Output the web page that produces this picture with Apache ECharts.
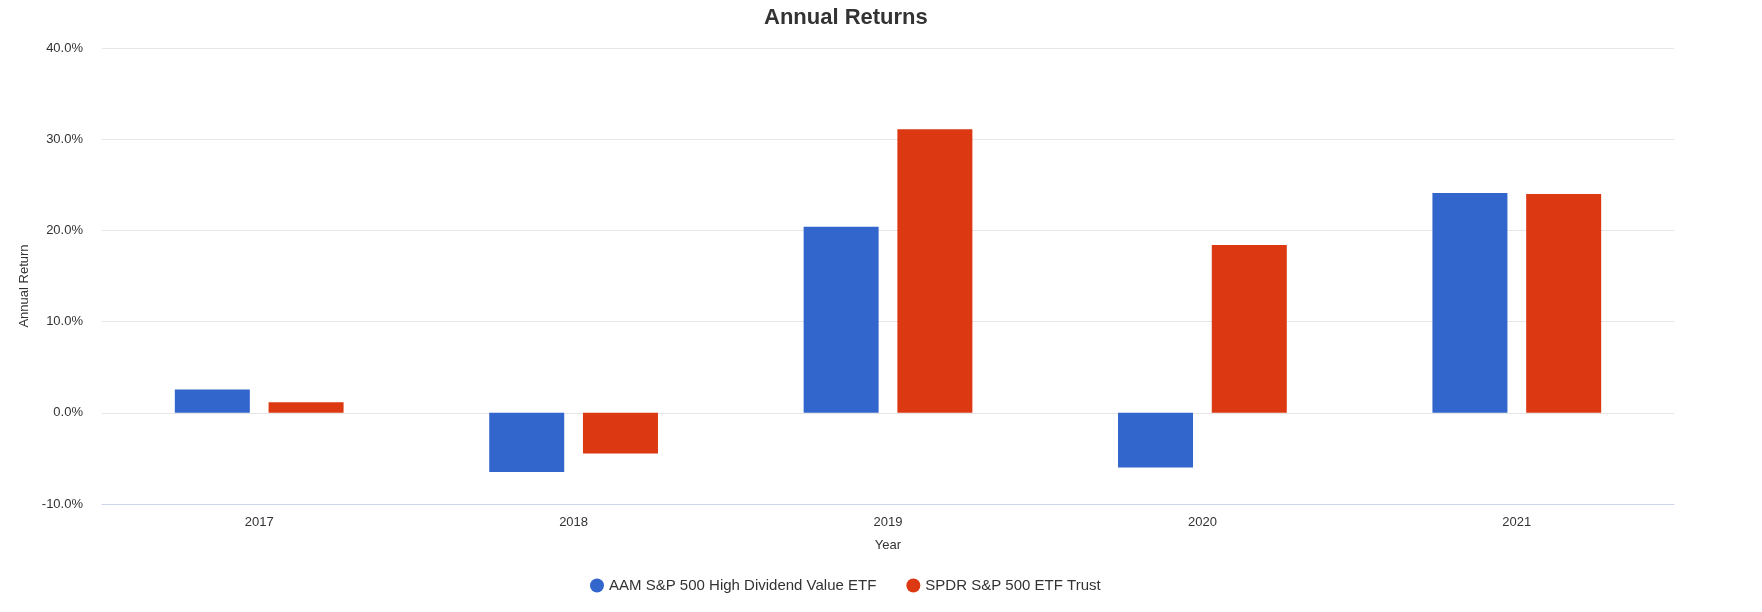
<!DOCTYPE html>
<html>
<head>
<meta charset="utf-8">
<title>Annual Returns</title>
<script src="https://cdn.jsdelivr.net/npm/echarts@6/dist/echarts.min.js"></script>
<style>
    html, body { margin: 0; padding: 0; background: #fff; }
    #chart1 { width: 1762px; height: 612px; }
</style>
</head>
<body>
<div id="chart1"></div>
<script>
    // years on the x axis
    var years = ['2017', '2018', '2019', '2020', '2021'];
    // annual returns in percent
    var aamReturns = [2.56, -6.5, 20.4, -6.0, 24.1];
    var spyReturns = [1.17, -4.47, 31.1, 18.4, 24.0];
    var seriesNames = ['AAM S&P 500 High Dividend Value ETF', 'SPDR S&P 500 ETF Trust'];

    var font = 'Arial, "Liberation Sans", sans-serif';

    var myChart = echarts.init(document.getElementById('chart1'));
    var option = {
        animation: false,
        title: {
            text: 'Annual Returns',
            left: 759,
            top: 2,
            textStyle: { fontSize: 22, fontWeight: 'bold', color: '#333', fontFamily: font }
        },
        legend: {
            data: seriesNames,
            left: 585,
            top: 573,
            icon: 'circle',
            itemWidth: 14,
            itemHeight: 14,
            itemGap: 30,
            textStyle: { fontSize: 15, color: '#333', fontFamily: font }
        },
        grid: {
            left: 102,
            right: 88,
            top: 48,
            bottom: 108
        },
        xAxis: {
            type: 'category',
            data: years,
            name: 'Year',
            nameLocation: 'middle',
            nameGap: 35,
            nameTextStyle: { fontSize: 13, color: '#333', fontFamily: font },
            axisLine: { onZero: false, lineStyle: { color: '#ccd6eb', width: 1 } },
            axisTick: { show: false },
            axisLabel: { fontSize: 13, color: '#333', margin: 12, fontFamily: font }
        },
        yAxis: {
            type: 'value',
            min: -10,
            max: 40,
            interval: 10,
            name: 'Annual Return',
            nameLocation: 'middle',
            nameGap: 70,
            nameTextStyle: { fontSize: 13, color: '#333', fontFamily: font, padding: [0, 20, 0, 0] },
            axisLine: { show: false },
            axisTick: { show: false },
            splitLine: { lineStyle: { color: '#e6e6e6' } },
            axisLabel: {
                fontSize: 13,
                color: '#333',
                margin: 19,
                fontFamily: font,
                formatter: function (v) { return v.toFixed(1) + '%'; }
            }
        },
        series: [
            {
                name: seriesNames[0],
                type: 'bar',
                data: aamReturns,
                barWidth: 75,
                barGap: '25%',
                itemStyle: { color: '#3366cc' }
            },
            {
                name: seriesNames[1],
                type: 'bar',
                data: spyReturns,
                barWidth: 75,
                itemStyle: { color: '#dc3912' }
            }
        ]
    };
    myChart.setOption(option);
</script>
</body>
</html>
